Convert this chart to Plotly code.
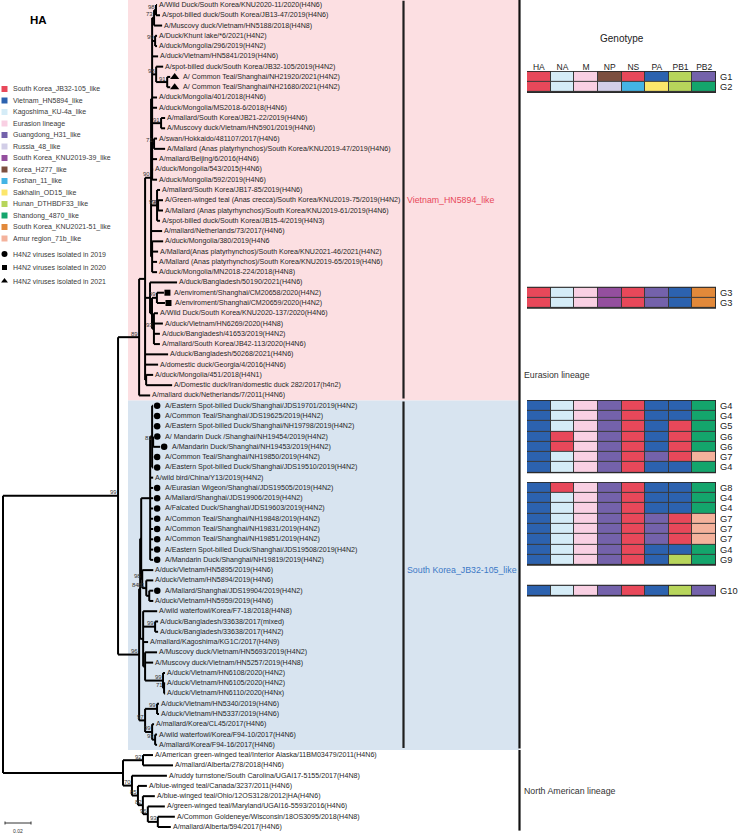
import plotly.graph_objects as go

W, H = 740, 833
FONT = "Liberation Sans, Arial, Helvetica, sans-serif"

# ---------------------------------------------------------------- data
leaf_labels = [
    "A/Wild Duck/South Korea/KNU2020-11/2020(H4N6)",
    "A/spot-billed duck/South Korea/JB13-47/2019(H4N6)",
    "A/Muscovy duck/Vietnam/HN5188/2018(H4N8)",
    "A/Duck/Khunt lake/*6/2021(H4N2)",
    "A/duck/Mongolia/296/2019(H4N2)",
    "A/duck/Vietnam/HN5841/2019(H4N6)",
    "A/spot-billed duck/South Korea/JB32-105/2019(H4N2)",
    "A/ Common Teal/Shanghai/NH21920/2021(H4N2)",
    "A/ Common Teal/Shanghai/NH21680/2021(H4N2)",
    "A/duck/Mongolia/401/2018(H4N6)",
    "A/duck/Mongolia/MS2018-6/2018(H4N6)",
    "A/mallard/South Korea/JB21-22/2019(H4N6)",
    "A/Muscovy duck/Vietnam/HN5901/2019(H4N6)",
    "A/swan/Hokkaido/481107/2017(H4N6)",
    "A/Mallard (Anas platyrhynchos)/South Korea/KNU2019-47/2019(H4N6)",
    "A/mallard/Beijing/6/2016(H4N6)",
    "A/duck/Mongolia/543/2015(H4N6)",
    "A/duck/Mongolia/592/2019(H4N6)",
    "A/mallard/South Korea/JB17-85/2019(H4N6)",
    "A/Green-winged teal (Anas crecca)/South Korea/KNU2019-75/2019(H4N2)",
    "A/Mallard (Anas platyrhynchos)/South Korea/KNU2019-61/2019(H4N6)",
    "A/spot-billed duck/South Korea/JB15-4/2019(H4N3)",
    "A/mallard/Netherlands/73/2017(H4N6)",
    "A/duck/Mongolia/380/2019(H4N6",
    "A/Mallard(Anas platyrhynchos)/South Korea/KNU2021-46/2021(H4N2)",
    "A/Mallard (Anas platyrhynchos)/South Korea/KNU2019-65/2019(H4N6)",
    "A/duck/Mongolia/MN2018-224/2018(H4N8)",
    "A/duck/Bangladesh/50190/2021(H4N6)",
    "A/enviroment/Shanghai/CM20658/2020(H4N2)",
    "A/enviroment/Shanghai/CM20659/2020(H4N2)",
    "A/Wild Duck/South Korea/KNU2020-137/2020(H4N6)",
    "A/duck/Vietnam/HN6269/2020(H4N8)",
    "A/duck/Bangladesh/41653/2019(H4N2)",
    "A/mallard/South Korea/JB42-113/2020(H4N6)",
    "A/duck/Bangladesh/50268/2021(H4N6)",
    "A/domestic duck/Georgia/4/2016(H4N6)",
    "A/duck/Mongolia/451/2018(H4N1)",
    "A/Domestic duck/Iran/domestic duck 282/2017(h4n2)",
    "A/mallard duck/Netherlands/7/2011(H4N6)",
    "A/Eastern Spot-billed Duck/Shanghai/JDS19701/2019(H4N2)",
    "A/Common Teal/Shanghai/JDS19625/2019(H4N2)",
    "A/Eastern Spot-billed Duck/Shanghai/NH19798/2019(H4N2)",
    "A/ Mandarin Duck /Shanghai/NH19454/2019(H4N2)",
    "A/Mandarin Duck/Shanghai/NH19453/2019(H4N2)",
    "A/Common Teal/Shanghai/NH19850/2019(H4N2)",
    "A/Eastern Spot-billed Duck/Shanghai/JDS19510/2019(H4N2)",
    "A/wild bird/China/Y13/2019(H4N2)",
    "A/Eurasian Wigeon/Shanghai/JDS19505/2019(H4N2)",
    "A/Mallard/Shanghai/JDS19906/2019(H4N2)",
    "A/Falcated Duck/Shanghai/JDS19603/2019(H4N2)",
    "A/Common Teal/Shanghai/NH19848/2019(H4N2)",
    "A/Common Teal/Shanghai/NH19831/2019(H4N2)",
    "A/Common Teal/Shanghai/NH19851/2019(H4N2)",
    "A/Eastern Spot-billed Duck/Shanghai/JDS19508/2019(H4N2)",
    "A/Mandarin Duck/Shanghai/NH19819/2019(H4N2)",
    "A/duck/Vietnam/HN5895/2019(H4N6)",
    "A/duck/Vietnam/HN5894/2019(H4N6)",
    "A/Mallard/Shanghai/JDS19904/2019(H4N2)",
    "A/duck/Vietnam/HN5959/2019(H4N6)",
    "A/wild waterfowl/Korea/F7-18/2018(H4N8)",
    "A/duck/Bangladesh/33638/2017(mixed)",
    "A/duck/Bangladesh/33638/2017(H4N2)",
    "A/mallard/Kagoshima/KG1C/2017(H4N9)",
    "A/Muscovy duck/Vietnam/HN5693/2019(H4N2)",
    "A/Muscovy duck/Vietnam/HN5257/2019(H4N8)",
    "A/duck/Vietnam/HN6108/2020(H4N2)",
    "A/duck/Vietnam/HN6105/2020(H4N2)",
    "A/duck/Vietnam/HN6110/2020(H4Nx)",
    "A/duck/Vietnam/HN5340/2019(H4N6)",
    "A/duck/Vietnam/HN5337/2019(H4N6)",
    "A/mallard/Korea/CL45/2017(H4N6)",
    "A/wild waterfowl/Korea/F94-10/2017(H4N6)",
    "A/mallard/Korea/F94-16/2017(H4N6)",
    "A/American green-winged teal/Interior Alaska/11BM03479/2011(H4N6)",
    "A/mallard/Alberta/278/2018(H4N6)",
    "A/ruddy turnstone/South Carolina/UGAI17-5155/2017(H4N8)",
    "A/blue-winged teal/Canada/3237/2011(H4N6)",
    "A/blue-winged teal/Ohio/12OS3128/2012|HA(H4N6)",
    "A/green-winged teal/Maryland/UGAI16-5593/2016(H4N6)",
    "A/Common Goldeneye/Wisconsin/18OS3095/2018(H4N8)",
    "A/mallard/Alberta/594/2017(H4N6)",
]

# H4N2 viruses isolated in this study (leaf numbers)
h4n2_2019 = [40, 41, 42, 43, 44, 45, 46, 48, 49, 50, 51, 52, 53, 54, 55, 58]
h4n2_2020 = [29, 30]
h4n2_2021 = [8, 9]

# HA tree: leaf ids Lnn, branch lengths (substitutions/site), bootstrap as node labels
tree_newick = """
(
 (
  (
   (
    (
     (((L1:0.0008,L2:0.0031)98:0.0015,L3:0.0062)73:0.0015,(L4:0.0015,L5:0.0015)99:0.0023,
      L6:0.0046,(L7:0.0054,(L8:0.0023,L9:0.0023)91:0.0085)98:0.0031,L10:0.0038,L11:0.0038,
      (L12:0.0031,L13:0.0031)91:0.0069,(L14:0.0023,L15:0.0085)71:0.0015,L16:0.0038,
      L17:0.0008,L18:0.0038):0.0008,
     (L19:0.0023,(L20:0.0038,L21:0.0038)74:0.0008,L22:0.0023)93:0.0046,
     L23:0.0085,
     (L24:0.0085,L25:0.0046,L26:0.0038,L27:0.0038):0.0008
    )90:0.0046,
    (L28:0.0208,((L29:0.0054,L30:0.0062)99:0.0038,
      (L31:0.0031,L32:0.0069,L33:0.0046,L34:0.0046)93:0.0015):0.0015):0.0038,
    L35:0.0177,
    L36:0.0100,
    (L37:0.0054,L38:0.0200):0.0008
   ):0.0046,
   L39:0.0085
  )89:0.0162,
  (
   (
    (
     ((L40:0.0008,L41:0.0008,L42:0.0008,(L43:0.0001,L44:0.0054)81:0.0008,L45:0.0008,
       L46:0.0008):0.0015,L47:0.0023,L48:0.0023,L49:0.0023,L50:0.0023,L51:0.0023,
       L52:0.0023,L53:0.0023,L54:0.0023,L55:0.0023):0.0069,
     (L56:0.0085,(L57:0.0054,(L58:0.0031,L59:0.0031):0.0023)81:0.0031)98:0.0008
    ):0.0008,
    (L60:0.0108,(L61:0.0023,L62:0.0023)99:0.0092,L63:0.0038,
     (L64:0.0092,L65:0.0062,(L66:0.0015,(L67:0.0008,L68:0.0008)71:0.0008)99:0.0138):0.0015
    ):0.0023
   )84:0.0008,
   ((L69:0.0015,L70:0.0015)99:0.0092,(L71:0.0015,(L72:0.0015,L73:0.0015)93:0.0023)99:0.0054)97:0.0046
  )96:0.0162
 )99:0.0885,
 (
  (L74:0.0077,L75:0.0231)92:0.0154,
  (L76:0.0269,(L77:0.0069,(L78:0.0092,(L79:0.0131,(L80:0.0131,L81:0.0100)93:0.0077)96:0.0038)82:0.0038)85:0.0046)70:0.0069
 ):0.0923
);
"""

lineage_names = [
    "South Korea_JB32-105_like", "Vietnam_HN5894_like", "Kagoshima_KU-4a_like",
    "Eurasion lineage", "Guangdong_H31_like", "Russia_48_like",
    "South Korea_KNU2019-39_like", "Korea_H277_like", "Foshan_11_like",
    "Sakhalin_OD15_like", "Hunan_DTHBDF33_like", "Shandong_4870_like",
    "South Korea_KNU2021-51_like", "Amur region_71b_like",
]
lineage_colors = [
    "#E8485A", "#2C62AF", "#D5ECF7", "#F9D0E3", "#7462AB", "#D2CEE7",
    "#944F9E", "#7C4F3F", "#44B4E5", "#FCE66B", "#B7D55B", "#14A56C",
    "#E2893A", "#F4B29C",
]

segments = ["HA", "NA", "M", "NP", "NS", "PA", "PB1", "PB2"]
# lineage index (into lineage_names) for each segment
genotype_lineages = {
    "G1": [0, 2, 3, 7, 0, 1, 10, 4],
    "G2": [0, 2, 3, 5, 8, 9, 10, 11],
    "G3": [0, 2, 3, 6, 0, 4, 1, 12],
    "G4": [1, 2, 3, 4, 0, 1, 1, 11],
    "G5": [1, 2, 3, 4, 0, 1, 0, 11],
    "G6": [1, 0, 3, 4, 0, 1, 0, 11],
    "G7": [1, 2, 3, 4, 0, 4, 0, 13],
    "G8": [1, 0, 3, 4, 0, 1, 1, 11],
    "G9": [1, 2, 3, 4, 0, 1, 10, 11],
    "G10": [1, 2, 3, 4, 0, 1, 10, 4],
}
genotype_row_leaf = [8, 9, 29, 30, 40, 41, 42, 43, 44, 45, 46,
                     48, 49, 50, 51, 52, 53, 54, 55, 58]
genotype_row_name = ["G1", "G2", "G3", "G3", "G4", "G4", "G5", "G6", "G6", "G7", "G4",
                     "G8", "G4", "G4", "G7", "G7", "G7", "G4", "G9", "G10"]

clade_names = ["Vietnam_HN5894_like", "South Korea_JB32-105_like"]
clade_leaf_range = [(1, 39), (40, 73)]
lineage_group_names = ["Eurasion lineage", "North American lineage"]
lineage_group_range = [(1, 73), (74, 81)]

scale_bar_length = 0.02
isolation_legend = ["H4N2 viruses isolated in 2019", "H4N2 viruses isolated in 2020",
                    "H4N2 viruses isolated in 2021"]

# ---------------------------------------------------------------- styles / layout constants
PX_PER_UNIT = 1300.0
X_RANGE = [-3 / PX_PER_UNIT, (W - 3) / PX_PER_UNIT]
ROW_PX = 10.275
ROW0_PX = 5.0
Y_RANGE = [1 + (H - ROW0_PX) / ROW_PX, 1 - ROW0_PX / ROW_PX]
PINK_BG = "#FCDFE2"
BLUE_BG = "#D8E4F0"
RED_TXT = "#E8485A"
BLUE_TXT = "#3B78C6"


# ---------------------------------------------------------------- newick parsing / layout
def parse_newick(text):
    s = "".join(text.split()).rstrip(";")
    pos = 0

    def node():
        nonlocal pos
        nd = {"children": [], "name": "", "length": 0.0}
        if s[pos] == "(":
            pos += 1
            while True:
                nd["children"].append(node())
                if s[pos] == ",":
                    pos += 1
                    continue
                if s[pos] == ")":
                    pos += 1
                    break
        start = pos
        while pos < len(s) and s[pos] not in ":,)":
            pos += 1
        nd["name"] = s[start:pos]
        if pos < len(s) and s[pos] == ":":
            pos += 1
            start = pos
            while pos < len(s) and s[pos] not in ",)":
                pos += 1
            nd["length"] = float(s[start:pos])
        return nd

    return node()


root = parse_newick(tree_newick)
leaves = []
internals = []


def place(nd, parent_x):
    nd["x"] = parent_x + nd["length"]
    if not nd["children"]:
        leaves.append(nd)
        nd["y"] = len(leaves)
    else:
        for c in nd["children"]:
            place(c, nd["x"])
        nd["y"] = (nd["children"][0]["y"] + nd["children"][-1]["y"]) / 2.0
        internals.append(nd)


place(root, 0.0)

seg_x, seg_y = [], []
for nd in internals:
    ys = [c["y"] for c in nd["children"]]
    seg_x += [nd["x"], nd["x"], None]
    seg_y += [min(ys), max(ys), None]
    for c in nd["children"]:
        seg_x += [nd["x"], c["x"], None]
        seg_y += [c["y"], c["y"], None]

fig = go.Figure()

# ---------------------------------------------------------------- clade background bands
shapes = []
for (a, b), col in zip(clade_leaf_range, [PINK_BG, BLUE_BG]):
    shapes.append(dict(type="rect", xref="paper", yref="y", x0=128 / W, x1=519 / W,
                       y0=a - 0.5, y1=b + 0.5, fillcolor=col, line=dict(width=0),
                       layer="below"))
for (a, b) in clade_leaf_range:
    shapes.append(dict(type="line", xref="paper", yref="y", x0=403.5 / W, x1=403.5 / W,
                       y0=a - 0.42, y1=b + 0.3, line=dict(color="#1e1e1e", width=2.2)))
for (a, b) in lineage_group_range:
    shapes.append(dict(type="line", xref="paper", yref="y", x0=519.5 / W, x1=519.5 / W,
                       y0=a - 0.5 if a > 1 else a - 0.52, y1=b + 0.35,
                       line=dict(color="#111111", width=2.2)))

# tree
fig.add_trace(go.Scatter(x=seg_x, y=seg_y, mode="lines",
                         line=dict(color="black", width=2), hoverinfo="skip",
                         showlegend=False))

# isolation markers
leaf_by_num = {int(l["name"][1:]): l for l in leaves}
mark_specs = [(h4n2_2019, "circle", 6.5, 4.0, 9.5),
              (h4n2_2020, "square", 6.0, 3.5, 8.5),
              (h4n2_2021, "triangle-up", 8.0, 4.5, 10.5)]
label_shift = {}
for lst, sym, size, gap, tshift in mark_specs:
    fig.add_trace(go.Scatter(
        x=[leaf_by_num[n]["x"] + gap / PX_PER_UNIT for n in lst],
        y=[leaf_by_num[n]["y"] for n in lst], mode="markers",
        marker=dict(symbol=sym, size=size, color="black", line=dict(width=0)),
        hoverinfo="skip", showlegend=False))
    for n in lst:
        label_shift[n] = tshift

annotations = []
for nd in leaves:
    n = int(nd["name"][1:])
    annotations.append(dict(x=nd["x"], y=nd["y"], xref="x", yref="y",
                            text=leaf_labels[n - 1], showarrow=False, xanchor="left",
                            yanchor="middle", xshift=label_shift.get(n, 0.0),
                            font=dict(family=FONT, size=7.1, color="#1f1f1f")))
for nd in internals:
    if nd["name"]:
        annotations.append(dict(x=nd["x"], y=nd["y"], xref="x", yref="y", text=nd["name"],
                                showarrow=False, xanchor="right", yanchor="middle",
                                xshift=1, yshift=3.5,
                                font=dict(family=FONT, size=6, color="#333333")))

# clade labels
for name, (a, b), col in zip(clade_names, clade_leaf_range, [RED_TXT, BLUE_TXT]):
    annotations.append(dict(x=405 / W, y=(a + b) / 2.0 - 0.5 * (a > 1), xref="paper",
                            yref="y", text=name,
                            showarrow=False, xanchor="left", yanchor="middle",
                            font=dict(family=FONT, size=8.8, color=col)))
for name, (a, b) in zip(lineage_group_names, lineage_group_range):
    annotations.append(dict(x=522 / W, y=(a + b) / 2.0, xref="paper", yref="y", text=name,
                            showarrow=False, xanchor="left", yanchor="middle",
                            font=dict(family=FONT, size=8.8, color="#333333")))

# ---------------------------------------------------------------- genotype grid
n_lin = len(lineage_colors)
colorscale = []
for i, c in enumerate(lineage_colors):
    colorscale += [[i / n_lin, c], [(i + 1) / n_lin, c]]
z = [[None] * len(segments) for _ in range(len(leaf_labels))]
for leaf, g in zip(genotype_row_leaf, genotype_row_name):
    z[leaf - 1] = list(genotype_lineages[g])
fig.add_trace(go.Heatmap(x=segments, y=list(range(1, len(leaf_labels) + 1)), z=z,
                         xaxis="x2", yaxis="y", colorscale=colorscale, zmin=-0.5,
                         zmax=n_lin - 0.5, showscale=False, xgap=1, ygap=1,
                         hoverinfo="skip"))
# blocks (contiguous runs) get a dark frame
runs = []
for leaf in genotype_row_leaf:
    if runs and leaf == runs[-1][1] + 1:
        runs[-1][1] = leaf
    else:
        runs.append([leaf, leaf])
for a, b in runs:
    shapes.append(dict(type="rect", xref="x2", yref="y", x0=-0.5, x1=len(segments) - 0.5,
                       y0=a - 0.5, y1=b + 0.5, fillcolor="#3a3a3a",
                       line=dict(color="#2a2a2a", width=1.4), layer="below"))
for leaf, g in zip(genotype_row_leaf, genotype_row_name):
    annotations.append(dict(x=len(segments) - 0.5, y=leaf, xref="x2", yref="y", text=g,
                            showarrow=False, xanchor="left", yanchor="middle", xshift=2,
                            font=dict(family=FONT, size=9.3, color="#222222")))
annotations.append(dict(x=(527 + 716) / 2 / W, y=1 - 39 / H, xref="paper", yref="paper",
                        text="Genotype", showarrow=False, xanchor="center",
                        yanchor="middle", font=dict(family=FONT, size=10, color="#222222")))

# ---------------------------------------------------------------- legend (left)
LEG_TOP, LEG_STEP = 89.0, 11.5
leg_y = [LEG_TOP + k * LEG_STEP for k in range(len(lineage_names))]
fig.add_trace(go.Scatter(x=[4.5] * len(lineage_names), y=leg_y, mode="markers",
                         marker=dict(symbol="square", size=6, color=lineage_colors,
                                     line=dict(width=0)),
                         xaxis="x3", yaxis="y3", hoverinfo="skip", showlegend=False))
iso_y = [254.0, 267.5, 281.0]
for yy, sym, size in zip(iso_y, ["circle", "square", "triangle-up"], [6, 5, 6]):
    fig.add_trace(go.Scatter(x=[4.5], y=[yy], mode="markers",
                             marker=dict(symbol=sym, size=size, color="black",
                                         line=dict(width=0)),
                             xaxis="x3", yaxis="y3", hoverinfo="skip", showlegend=False))
for yy, name in zip(leg_y + iso_y, lineage_names + isolation_legend):
    annotations.append(dict(x=10.5, y=yy, xref="x3", yref="y3", text=name,
                            showarrow=False, xanchor="left", yanchor="middle",
                            font=dict(family=FONT, size=7, color="#3a3a3a")))
annotations.append(dict(x=38, y=20, xref="x3", yref="y3", text="<b>HA</b>",
                        showarrow=False, xanchor="center", yanchor="middle",
                        font=dict(family=FONT, size=11.5, color="black")))

# scale bar
sb_x0 = 2 / PX_PER_UNIT
sb_y = 823.0
shapes.append(dict(type="line", xref="x", yref="y3", x0=sb_x0, x1=sb_x0 + scale_bar_length,
                   y0=sb_y, y1=sb_y, line=dict(color="#333333", width=1)))
for xx in (sb_x0, sb_x0 + scale_bar_length):
    shapes.append(dict(type="line", xref="x", yref="y3", x0=xx, x1=xx,
                       y0=sb_y - 1.5, y1=sb_y + 1.5, line=dict(color="#333333", width=1)))
annotations.append(dict(x=sb_x0 + scale_bar_length / 2, y=830.5, xref="x", yref="y3",
                        text=str(scale_bar_length), showarrow=False, xanchor="center",
                        yanchor="middle", font=dict(family=FONT, size=5, color="#333333")))

hidden = dict(visible=False, showgrid=False, zeroline=False, fixedrange=True)
fig.update_layout(
    width=W, height=H, autosize=False,
    margin=dict(l=0, r=0, t=0, b=0, pad=0),
    paper_bgcolor="white", plot_bgcolor="rgba(0,0,0,0)",
    showlegend=False,
    xaxis=dict(domain=[0, 1], range=X_RANGE, **hidden),
    yaxis=dict(domain=[0, 1], range=Y_RANGE, **hidden),
    xaxis2=dict(domain=[527 / W, 716 / W], type="category", categoryorder="array",
                categoryarray=segments, range=[-0.5, len(segments) - 0.5],
                anchor="free", position=1 - 72 / H, side="top", showgrid=False,
                zeroline=False, showline=False, ticks="", fixedrange=True,
                tickfont=dict(family=FONT, size=8.5, color="#222222")),
    xaxis3=dict(domain=[0, 1], range=[0, W], overlaying="x", anchor="y3", **hidden),
    yaxis3=dict(domain=[0, 1], range=[H, 0], overlaying="y", anchor="x3", **hidden),
    shapes=shapes,
    annotations=annotations,
)

fig.write_html("out.html", config={"displayModeBar": False, "staticPlot": True},
               post_script="document.body.style.margin='0px';")
